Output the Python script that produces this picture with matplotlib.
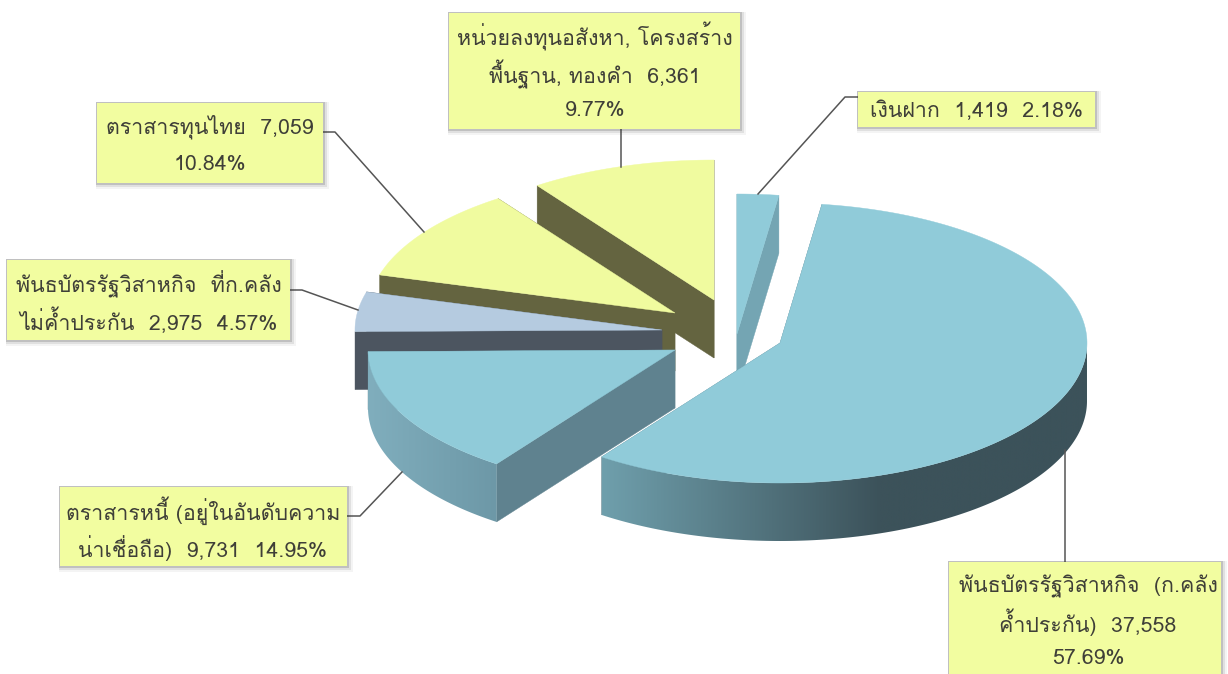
import numpy as np
import matplotlib
matplotlib.use('Agg')
import matplotlib.pyplot as plt
from matplotlib.colors import LinearSegmentedColormap
from matplotlib.patches import Polygon, Rectangle

plt.rcParams['font.family'] = ['Loma', 'Sarabun', 'DejaVu Sans']

# data, same order as the pie runs clockwise from 12 o'clock
amounts = [1419, 37558, 9731, 2975, 7059, 6361]
percents = [2.18, 57.69, 14.95, 4.57, 10.84, 9.77]
label_lines = [
    ['เงินฝาก  1,419  2.18%'],
    ['พันธบัตรรัฐวิสาหกิจ  (ก.คลัง', 'ค้ำประกัน)  37,558', '57.69%'],
    ['ตราสารหนี้ (อยู่ในอันดับความ', 'น่าเชื่อถือ)  9,731  14.95%'],
    ['พันธบัตรรัฐวิสาหกิจ  ที่ก.คลัง', 'ไม่ค้ำประกัน  2,975  4.57%'],
    ['ตราสารทุนไทย  7,059', '10.84%'],
    ['หน่วยลงทุนอสังหา, โครงสร้าง', 'พื้นฐาน, ทองคำ  6,361', '9.77%'],
]

# layout in picture pixels
RX = 307
RY = 140
DEPTH = 58
apex = [(737, 334), (780, 343), (675, 350), (662, 330), (675, 313), (714, 300)]
top_col = ['#90cbd9', '#90cbd9', '#90cbd9', '#b5cbe0', '#f0fb9f', '#f0fb9f']
cut_col = ['#74a5b3', '#5f828f', '#5f828f', '#4c5560', '#646440', '#646440']
wall_left = ['#74a5b3', '#6f9fac', '#80aebd', '#4c5560', '#646440', '#646440']
wall_right = ['#74a5b3', '#3c525a', '#6d98a7', '#4c5560', '#646440', '#646440']
wall_span = [(0, 1), (602, 880), (368, 497), (0, 1), (0, 1), (0, 1)]
boxes = [(858, 92, 1095, 127), (949, 562, 1221, 680), (60, 487, 347, 566),
         (7, 260, 290, 340), (97, 103, 323, 183), (449, 13, 740, 129)]
text_x = [976, 1088, 203, 149, 210, 595]
text_y = [[111], [586, 622, 659], [511, 548], [284, 321], [127, 165], [36, 74, 111]]
leaders = [[(858, 97), (845, 97), (758, 194)],
           [(1065, 562), (1065, 450)],
           [(347, 516), (360, 516), (402, 472)],
           [(290, 290), (302, 290), (358, 310)],
           [(323, 132), (335, 132), (424, 232)],
           [(621, 129), (621, 167)]]

fig = plt.figure(figsize=(12.28, 6.74), dpi=100)
ax = fig.add_axes([0, 0, 1, 1])
ax.set_xlim(0, 1228)
ax.set_ylim(674, 0)
ax.axis('off')

# angles from the values, going clockwise from the top
sweep = np.array(amounts) / sum(amounts) * 360
ends = 90 - np.cumsum(sweep)
starts = ends + sweep

# back slices first, deposit is on its own at the back
z = 2
for i in [0, 5, 4, 3, 2, 1]:
    ax0, ay0 = apex[i]
    th = np.radians(np.linspace(starts[i], ends[i], 240))
    xs = ax0 + RX * np.cos(th)
    ys = ay0 - RY * np.sin(th)
    # cut faces
    for k in [0, -1]:
        ax.add_patch(Polygon([(ax0, ay0), (xs[k], ys[k]), (xs[k], ys[k] + DEPTH), (ax0, ay0 + DEPTH)],
                             fc=cut_col[i], ec=cut_col[i], lw=0.3, zorder=z))
    # outer wall, only the part facing us, gradient clipped to it
    front = np.sin(th) < 0.02
    if front.any():
        fx = xs[front]
        fy = ys[front]
        wall = Polygon(np.vstack([np.column_stack([fx, fy]), np.column_stack([fx, fy + DEPTH])[::-1]]),
                       fc='none', ec='none', transform=ax.transData)
        ax.add_patch(wall)
        cmap = LinearSegmentedColormap.from_list('w', [wall_left[i], wall_right[i]])
        lo = fx.min()
        hi = fx.max()
        grad = (np.linspace(lo, hi, 600) - wall_span[i][0]) / (wall_span[i][1] - wall_span[i][0])
        im = ax.imshow(np.clip(grad, 0, 1)[None, :], cmap=cmap, vmin=0, vmax=1, aspect='auto',
                       extent=(lo, hi, fy.max() + DEPTH, fy.min()), zorder=z)
        im.set_clip_path(wall)
    ax.add_patch(Polygon(np.vstack([[ax0, ay0], np.column_stack([xs, ys])]), fc=top_col[i], ec=top_col[i],
                         lw=0.3, zorder=z))
    z += 1
ax.set_xlim(0, 1228)
ax.set_ylim(674, 0)

# leader lines
for pts in leaders:
    ax.plot([p[0] for p in pts], [p[1] for p in pts], color='#555555', lw=1.1, zorder=10)

# label boxes with soft shadow
for i, (x0, y0, x1, y1) in enumerate(boxes):
    for g, al in [(7, 0.05), (5, 0.10), (3, 0.18)]:
        ax.add_patch(Rectangle((x0 - 1, y0 - 1), x1 - x0 + g, y1 - y0 + g, fc='#303030', ec='none', alpha=al, zorder=11))
    ax.add_patch(Rectangle((x0, y0), x1 - x0, y1 - y0, fc='#f2fda0', ec='none', zorder=12))
    for line, y in zip(label_lines[i], text_y[i]):
        ax.text(text_x[i], y, line, fontsize=15.4, color='#3f3f38', ha='center', va='center', zorder=13)

fig.savefig('out.png', dpi=100)
